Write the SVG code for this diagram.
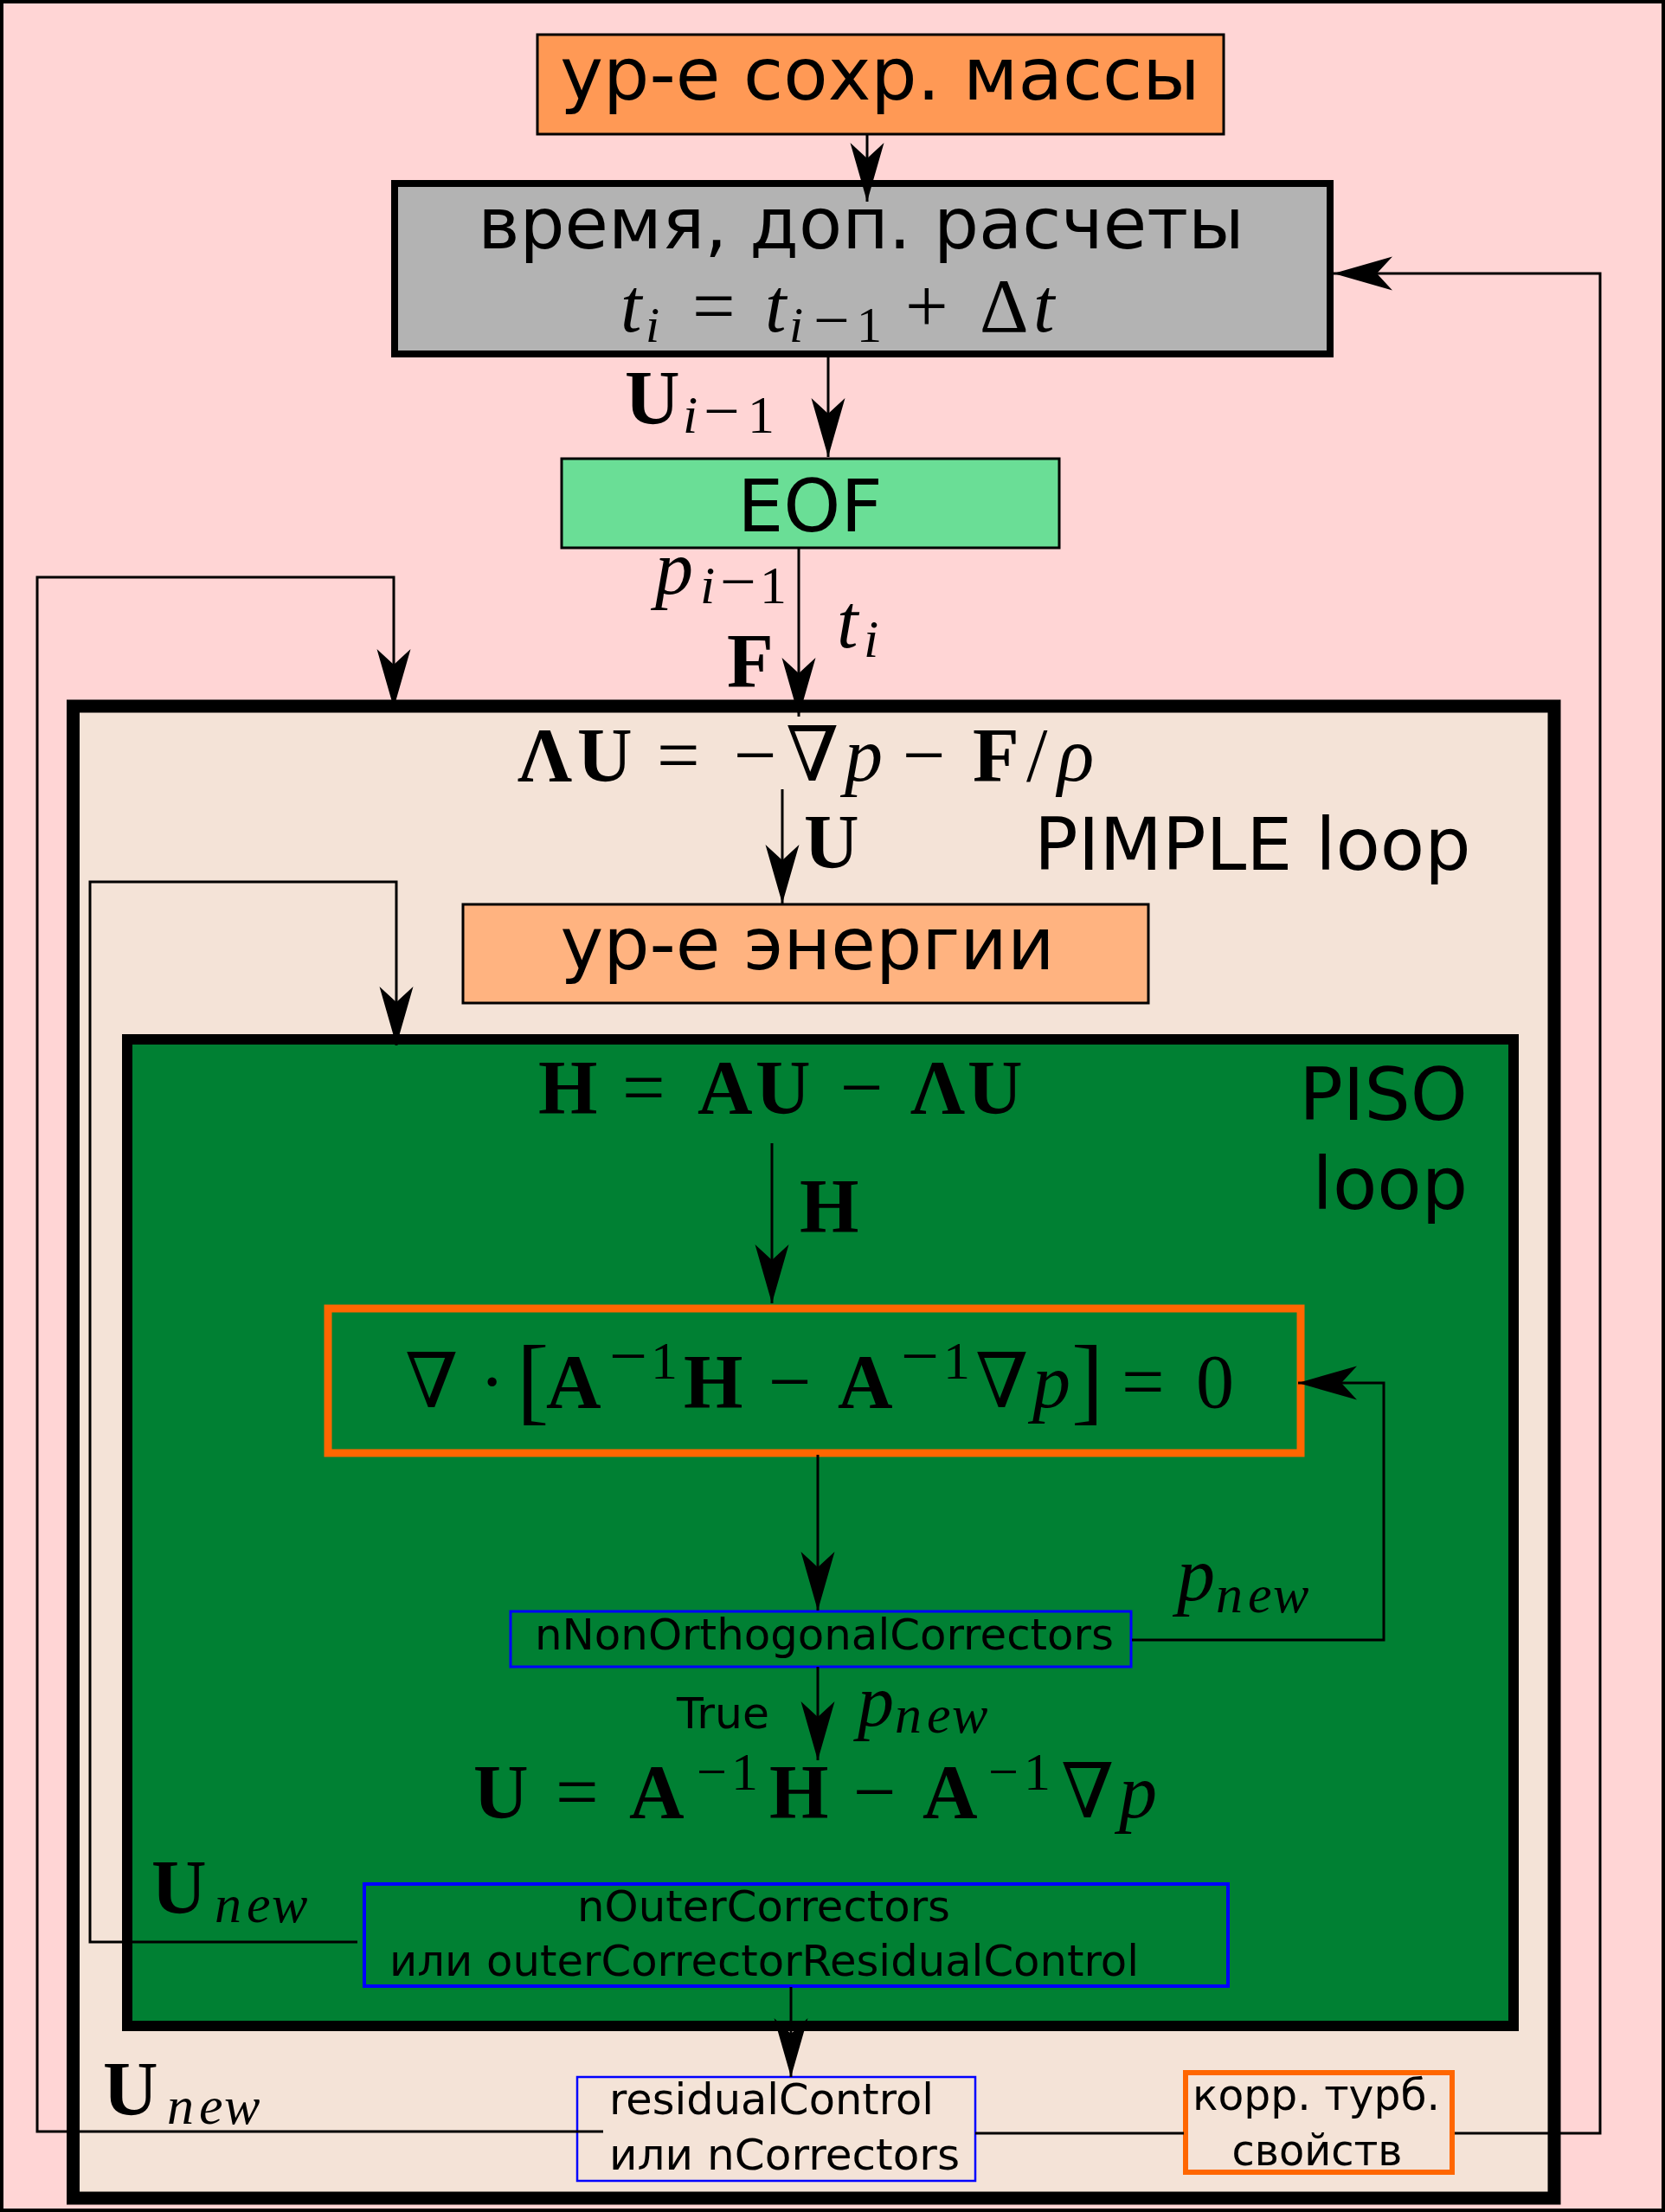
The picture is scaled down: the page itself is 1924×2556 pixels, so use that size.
<svg xmlns="http://www.w3.org/2000/svg" width="1924" height="2556" viewBox="0 0 1924 2556">
<style>
.s{font-family:"DejaVu Sans","Noto Sans",sans-serif;fill:#000}
.big{font-size:84px}
.sm{font-size:49px}
.m{font-family:"Liberation Serif","DejaVu Serif",serif;font-size:88px;fill:#000}
.b{font-weight:bold}
.i{font-style:italic}
.sub{font-size:62px}
.mn{font-size:78px}
.box{stroke:#000;stroke-width:3}
.blue{fill:none;stroke:#0000ff}
.ln{fill:none;stroke:#000;stroke-width:3}
</style>
<defs>
<marker id="ah" markerUnits="userSpaceOnUse" viewBox="-70 -22 72 44" refX="0" refY="0" markerWidth="72" markerHeight="44" orient="auto" overflow="visible">
<path d="M0,0 L-68,-19.5 L-50,0 L-68,19.5 Z" fill="#000"/>
</marker>
</defs>
<rect id="frame" x="2" y="2" width="1920" height="2552" fill="#ffd5d5" stroke="#000" stroke-width="4"/>

<g id="mass">
<rect class="box" x="621" y="40" width="793" height="115" fill="#ff9955"/>
<text class="s big" x="1017" y="115" text-anchor="middle">ур-е сохр. массы</text>
</g>

<g id="time">
<rect x="456" y="212" width="1081" height="197" fill="#b3b3b3" stroke="#000" stroke-width="8"/>
<text class="s" font-size="82" x="995" y="287" text-anchor="middle">время, доп. расчеты</text>
<text class="m" font-size="80"><tspan class="i" x="717" y="383">t</tspan><tspan class="i" font-size="58" x="746" y="395">i</tspan><tspan x="800" y="383">=</tspan><tspan class="i" x="884" y="383">t</tspan><tspan class="i" font-size="58" x="912" y="395">i</tspan><tspan font-size="74" x="940" y="395">−</tspan><tspan font-size="58" x="990" y="395">1</tspan><tspan x="1046" y="383">+</tspan><tspan x="1132" y="383">Δ</tspan><tspan class="i" x="1194" y="383">t</tspan></text>
</g>

<g id="eof">
<rect class="box" x="649" y="530" width="575" height="103" fill="#6ade96"/>
<text class="s big" x="936" y="614" text-anchor="middle">EOF</text>
</g>

<g id="pimple">
<rect x="84.5" y="816" width="1711.5" height="1724" fill="#f4e3d7" stroke="#000" stroke-width="15"/>
<text class="m" y="902"><tspan class="b" x="598">Λ</tspan><tspan class="b" x="667">U</tspan><tspan x="759">=</tspan><tspan x="848">−</tspan><tspan x="908">∇</tspan><tspan class="i" x="976">p</tspan><tspan x="1043">−</tspan><tspan class="b" x="1124">F</tspan><tspan x="1186">/</tspan><tspan class="i" x="1222">ρ</tspan></text>
<text class="s big" x="1195" y="1005">PIMPLE loop</text>
</g>

<g id="energy">
<rect class="box" x="535" y="1045" width="792" height="114" fill="#ffb380"/>
<text class="s big" x="933" y="1120" text-anchor="middle">ур-е энергии</text>
</g>

<g id="piso">
<rect x="147" y="1201" width="1602" height="1140" fill="#008033" stroke="#000" stroke-width="12"/>
<text class="s big" x="1696" y="1294" text-anchor="end">PISO</text>
<text class="s big" x="1696" y="1397" text-anchor="end">loop</text>
<text class="m" y="1286"><tspan class="b" x="622">H</tspan><tspan x="719">=</tspan><tspan class="b" x="806">A</tspan><tspan class="b" x="873">U</tspan><tspan x="971">−</tspan><tspan class="b" x="1052">Λ</tspan><tspan class="b" x="1118">U</tspan></text>
</g>

<g id="pressure">
<rect x="379" y="1512" width="1124" height="167" fill="none" stroke="#ff6600" stroke-width="9"/>
<text class="m"><tspan x="468" y="1626">∇</tspan><tspan x="554" y="1626">·</tspan><tspan font-size="112" x="597" y="1632">[</tspan><tspan class="b" x="631" y="1626">A</tspan><tspan class="mn" x="704" y="1593">−</tspan><tspan class="sub" x="752" y="1593">1</tspan><tspan class="b" x="790" y="1626">H</tspan><tspan x="888" y="1626">−</tspan><tspan class="b" x="968" y="1626">A</tspan><tspan class="mn" x="1041" y="1593">−</tspan><tspan class="sub" x="1090" y="1593">1</tspan><tspan x="1127" y="1626">∇</tspan><tspan class="i" x="1193" y="1626">p</tspan><tspan font-size="112" x="1238" y="1632">]</tspan><tspan x="1296" y="1626">=</tspan><tspan x="1382" y="1626">0</tspan></text>
</g>

<g id="nonorth">
<rect class="blue" x="590" y="1862" width="717" height="64" stroke-width="3"/>
<text class="s sm" x="618" y="1906" textLength="669" lengthAdjust="spacingAndGlyphs">nNonOrthogonalCorrectors</text>
</g>

<g id="ucorr">
<text class="m"><tspan class="b" x="547" y="2100">U</tspan><tspan x="642" y="2100">=</tspan><tspan class="b" x="727" y="2100">A</tspan><tspan class="sub" x="805" y="2068">−</tspan><tspan class="sub" x="845" y="2068">1</tspan><tspan class="b" x="889" y="2100">H</tspan><tspan x="986" y="2100">−</tspan><tspan class="b" x="1066" y="2100">A</tspan><tspan class="sub" x="1142" y="2068">−</tspan><tspan class="sub" x="1183" y="2068">1</tspan><tspan x="1226" y="2100">∇</tspan><tspan class="i" x="1293" y="2100">p</tspan></text>
</g>

<g id="outer">
<rect class="blue" x="421" y="2177" width="998" height="118" stroke-width="4"/>
<text class="s sm" x="667" y="2220" textLength="431" lengthAdjust="spacingAndGlyphs">nOuterCorrectors</text>
<text class="s sm" x="450" y="2283" textLength="866" lengthAdjust="spacingAndGlyphs">или outerCorrectorResidualControl</text>
</g>

<g id="residual">
<rect class="blue" x="667" y="2400" width="460" height="120" stroke-width="2.5"/>
<text class="s sm" x="704" y="2443" textLength="375" lengthAdjust="spacingAndGlyphs">residualControl</text>
<text class="s sm" x="704" y="2507" textLength="405" lengthAdjust="spacingAndGlyphs">или nCorrectors</text>
</g>

<g id="turb">
<rect x="1370" y="2395" width="308" height="115" fill="none" stroke="#ff6600" stroke-width="6"/>
<text class="s sm" x="1521" y="2438" text-anchor="middle" textLength="286" lengthAdjust="spacingAndGlyphs">корр. турб.</text>
<text class="s sm" x="1522" y="2502" text-anchor="middle" textLength="197" lengthAdjust="spacingAndGlyphs">свойств</text>
</g>

<g id="connectors">
<path class="ln" d="M1002,155 V233" stroke-width="2.5" marker-end="url(#ah)"/>
<path class="ln" d="M1681,2465 H1849 V316 H1541" stroke-width="3.5" marker-end="url(#ah)"/>
<path class="ln" d="M957,413 V528" stroke-width="2.5" marker-end="url(#ah)"/>
<path class="ln" d="M923,633 V828" stroke-width="2.5" marker-end="url(#ah)"/>
<path class="ln" d="M697,2463 H43 V667 H455 V818" marker-end="url(#ah)"/>
<path class="ln" d="M904,912 V1044" stroke-width="2.5" marker-end="url(#ah)"/>
<path class="ln" d="M413,2244 H104 V1019 H458 V1208" marker-end="url(#ah)"/>
<path class="ln" d="M892,1321 V1506" stroke-width="2.5" marker-end="url(#ah)"/>
<path class="ln" d="M945,1681 V1861" stroke-width="2.5" marker-end="url(#ah)"/>
<path class="ln" d="M1308,1895 H1599 V1598 H1500" stroke-width="3.5" marker-end="url(#ah)"/>
<path class="ln" d="M945,1926 V2034" stroke-width="2.5" marker-end="url(#ah)"/>
<path class="ln" d="M914,2296 V2400" stroke-width="2.5" marker-end="url(#ah)"/>
<path class="ln" d="M1127,2465 H1368" stroke-width="4"/>
</g>

<g id="labels">
<text class="m"><tspan class="b" x="722" y="489">U</tspan><tspan class="i sub" x="789" y="500">i</tspan><tspan font-size="74" x="813" y="500">−</tspan><tspan class="sub" x="864" y="500">1</tspan></text>
<text class="m"><tspan class="i" x="757" y="686">p</tspan><tspan class="i sub" x="809" y="697">i</tspan><tspan font-size="74" x="832" y="697">−</tspan><tspan class="sub" x="878" y="697">1</tspan></text>
<text class="m"><tspan class="i" x="967" y="748">t</tspan><tspan class="i sub" x="998" y="759">i</tspan></text>
<text class="m b" x="840" y="793">F</text>
<text class="m b" x="929" y="1002">U</text>
<text class="m b" x="924" y="1423">H</text>
<text class="m"><tspan class="i" x="1360" y="1849">p</tspan><tspan class="i sub" x="1405" y="1863">n</tspan><tspan class="i sub" x="1442" y="1863">e</tspan><tspan class="i sub" x="1471" y="1863">w</tspan></text>
<text class="s sm" x="782" y="1997" textLength="107" lengthAdjust="spacingAndGlyphs">True</text>
<text class="m"><tspan class="i" font-size="84" x="991" y="1994">p</tspan><tspan class="i sub" x="1034" y="2002">n</tspan><tspan class="i sub" x="1071" y="2002">e</tspan><tspan class="i sub" x="1100" y="2002">w</tspan></text>
<text class="m"><tspan class="b" x="175" y="2210">U</tspan><tspan class="i sub" x="248" y="2221">n</tspan><tspan class="i sub" x="285" y="2221">e</tspan><tspan class="i sub" x="314" y="2221">w</tspan></text>
<text class="m"><tspan class="b" x="119" y="2443">U</tspan><tspan class="i sub" x="193" y="2454">n</tspan><tspan class="i sub" x="230" y="2454">e</tspan><tspan class="i sub" x="259" y="2454">w</tspan></text>
</g>
</svg>
